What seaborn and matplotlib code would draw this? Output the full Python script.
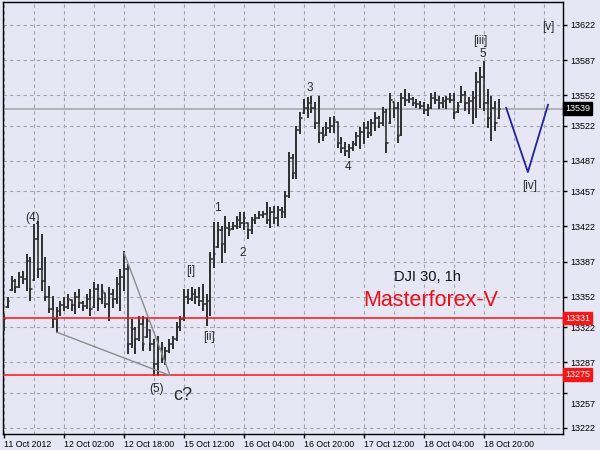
import pandas as pd
import matplotlib
matplotlib.use('Agg')
import matplotlib.pyplot as plt
import matplotlib.transforms as mtransforms
import seaborn as sns

# hourly OHLC bars, DJI 30
highs = [13334, 13351, 13372, 13369, 13376, 13377, 13394, 13391, 13423, 13426,
         13414, 13391, 13362, 13352, 13341, 13347, 13351, 13354, 13349, 13356,
         13359, 13347, 13354, 13359, 13366, 13364, 13364, 13356, 13361, 13359,
         13371, 13379, 13397, 13384, 13329, 13321, 13332, 13332, 13331, 13319,
         13309, 13312, 13306, 13301, 13309, 13312, 13326, 13332, 13359, 13359,
         13361, 13359, 13361, 13364, 13354, 13396, 13425, 13425, 13421, 13431,
         13425, 13425, 13431, 13435, 13435, 13425, 13430, 13433, 13436, 13436,
         13445, 13440, 13441, 13441, 13440, 13456, 13495, 13493, 13521, 13535,
         13548, 13550, 13551, 13545, 13551, 13520, 13525, 13530, 13531, 13526,
         13510, 13505, 13503, 13506, 13515, 13520, 13525, 13526, 13528, 13535,
         13531, 13540, 13538, 13553, 13546, 13545, 13553, 13557, 13553, 13550,
         13548, 13546, 13545, 13543, 13553, 13554, 13551, 13550, 13551, 13553,
         13553, 13545, 13560, 13555, 13550, 13555, 13574, 13579, 13585, 13557,
         13551, 13546, 13548]
lows = [13319, 13342, 13359, 13357, 13362, 13366, 13359, 13349, 13369, 13372,
        13359, 13349, 13337, 13322, 13317, 13334, 13339, 13341, 13339, 13336,
        13342, 13339, 13341, 13334, 13342, 13339, 13346, 13342, 13329, 13342,
        13346, 13339, 13359, 13296, 13302, 13296, 13309, 13299, 13312, 13299,
        13275, 13275, 13287, 13285, 13297, 13301, 13309, 13319, 13329, 13346,
        13349, 13346, 13344, 13339, 13324, 13334, 13382, 13402, 13387, 13397,
        13414, 13419, 13420, 13421, 13419, 13411, 13416, 13425, 13430, 13431,
        13425, 13421, 13425, 13423, 13431, 13431, 13451, 13470, 13470, 13515,
        13535, 13531, 13536, 13520, 13506, 13508, 13513, 13516, 13516, 13501,
        13496, 13493, 13491, 13498, 13503, 13500, 13505, 13511, 13513, 13518,
        13521, 13523, 13496, 13525, 13531, 13506, 13513, 13543, 13546, 13543,
        13541, 13540, 13535, 13533, 13540, 13545, 13540, 13541, 13540, 13546,
        13530, 13536, 13546, 13538, 13535, 13525, 13531, 13541, 13538, 13521,
        13508, 13518, 13530]
opens = [13322, 13342, 13359, 13368, 13362, 13372, 13370, 13388, 13369, 13410,
         13380, 13368, 13352, 13340, 13330, 13338, 13344, 13342, 13349, 13344,
         13352, 13346, 13343, 13350, 13342, 13360, 13350, 13356, 13345, 13355,
         13350, 13365, 13372, 13380, 13305, 13320, 13310, 13325, 13312, 13319,
         13305, 13285, 13300, 13290, 13298, 13305, 13310, 13322, 13330, 13352,
         13350, 13355, 13352, 13348, 13345, 13348, 13390, 13402, 13418, 13405,
         13420, 13419, 13422, 13428, 13425, 13425, 13418, 13428, 13430, 13433,
         13434, 13428, 13436, 13430, 13438, 13436, 13452, 13490, 13475, 13518,
         13535, 13540, 13545, 13540, 13525, 13515, 13513, 13520, 13522, 13526,
         13505, 13500, 13497, 13500, 13504, 13512, 13516, 13520, 13515, 13525,
         13530, 13525, 13536, 13525, 13546, 13540, 13513, 13550, 13548, 13549,
         13545, 13544, 13542, 13538, 13540, 13550, 13548, 13545, 13547, 13549,
         13548, 13536, 13546, 13552, 13545, 13547, 13550, 13565, 13570, 13545,
         13530, 13540, 13530]
closes = [13330, 13348, 13368, 13362, 13372, 13370, 13388, 13360, 13410, 13380,
          13368, 13352, 13340, 13330, 13338, 13344, 13342, 13350, 13344, 13352,
          13346, 13343, 13350, 13340, 13360, 13350, 13358, 13345, 13355, 13350,
          13365, 13372, 13380, 13305, 13320, 13310, 13325, 13305, 13328, 13305,
          13285, 13300, 13290, 13298, 13305, 13310, 13322, 13330, 13352, 13350,
          13355, 13352, 13348, 13345, 13348, 13390, 13395, 13418, 13405, 13420,
          13418, 13422, 13428, 13425, 13430, 13418, 13428, 13430, 13433, 13434,
          13428, 13436, 13430, 13438, 13436, 13452, 13490, 13475, 13518, 13530,
          13540, 13545, 13540, 13525, 13515, 13512, 13520, 13522, 13528, 13505,
          13500, 13497, 13500, 13504, 13512, 13516, 13520, 13515, 13525, 13530,
          13525, 13536, 13505, 13548, 13540, 13512, 13550, 13548, 13549, 13545,
          13544, 13542, 13538, 13540, 13550, 13548, 13545, 13547, 13549, 13548,
          13535, 13542, 13552, 13545, 13547, 13550, 13565, 13570, 13545, 13530,
          13540, 13525, 13539]

date_ticks = [0, 16, 32, 48, 64, 80, 96, 112, 128]
date_labels = ['11 Oct 2012', '12 Oct 02:00', '12 Oct 18:00', '15 Oct 12:00', '16 Oct 04:00',
               '16 Oct 20:00', '17 Oct 12:00', '18 Oct 04:00', '18 Oct 20:00']
price_ticks = [13222, 13257, 13287, 13322, 13352, 13387, 13422, 13457, 13487, 13522, 13552, 13587, 13622]

last_price = 13539
levels = [13331, 13275]

# wave markup: triangle and projected [iv]-[v] move
tri_x = [14.1, 44.3, 32.0]
tri_y = [13317, 13274, 13396]
proj_x = [133.9, 139.7, 145.1]
proj_y = [13540, 13476, 13543]

wave_labels = [('(4)', 7.7, 13430), ('(5)', 40.8, 13261), ('[i]', 49.9, 13378), ('[ii]', 54.7, 13312),
               ('1', 56.8, 13440), ('2', 63.7, 13396), ('3', 81.6, 13559), ('4', 91.7, 13481),
               ('[iii]', 126.9, 13606), ('5', 127.7, 13593), ('[iv]', 140.3, 13462), ('[v]', 145.1, 13620)]

bg = '#E6E6F4'
sns.set_theme(style='white', rc={'axes.facecolor': bg, 'figure.facecolor': bg})
plt.rcParams['font.family'] = ['Liberation Sans', 'DejaVu Sans']

# each bar as one path: open tick, high-low line, close tick
rows = []
for i in range(len(highs)):
    pts = [(i - 0.38, opens[i]), (i, opens[i]), (i, highs[i]), (i, lows[i]), (i, closes[i]), (i + 0.38, closes[i])]
    for x, p in pts:
        rows.append({'bar': i, 'x': x, 'price': p})
bars = pd.DataFrame(rows)

fig = plt.figure(figsize=(6, 4.5), dpi=100)
ax = fig.add_axes([3 / 600, 16 / 450, 560 / 600, 432 / 450])

sns.lineplot(data=bars, x='x', y='price', units='bar', estimator=None, sort=False,
             color='#333333', lw=1.2, ax=ax, zorder=3)

ax.axhline(last_price, color='#A8A8A8', lw=1.2, zorder=2)
for lv in levels:
    ax.axhline(lv, color='#FF1010', lw=1.1, zorder=4)

sns.lineplot(x=tri_x, y=tri_y, sort=False, color='#8C8C8C', lw=1.0, ax=ax, zorder=5)
sns.lineplot(x=proj_x, y=proj_y, sort=False, color='#24249A', lw=1.3, ax=ax, zorder=5)

for txt, x, y in wave_labels:
    ax.text(x, y, txt, fontsize=8.5, color='#2A2A2A', ha='center', va='center', zorder=6)
ax.text(47.7, 13254, 'c?', fontsize=13, color='#2A2A2A', ha='center', va='center')
ax.text(112.8, 13372, 'DJI 30, 1h', fontsize=10.5, color='#111111', ha='center', va='center')
ax.text(113.9, 13349, 'Masterforex-V', fontsize=15.5, color='#E8101A', ha='center', va='center')

ax.set_xlim(-0.27, 149.07)
ax.set_ylim(13216, 13644.8)
ax.set_xlabel('')
ax.set_ylabel('')

ax.set_xticks(date_ticks)
ax.set_xticklabels(date_labels, ha='left')
ax.set_xticks(range(0, 150, 8), minor=True)
ax.yaxis.tick_right()
ax.set_yticks(price_ticks)
ax.set_yticklabels([str(p) for p in price_ticks])
ax.tick_params(axis='x', which='major', direction='out', length=3, width=1, pad=1,
               labelsize=6.3, colors='black', bottom=True)
ax.tick_params(axis='x', which='minor', length=0)
ax.tick_params(axis='y', direction='out', length=3, width=1, pad=2, labelsize=6.5,
               colors='black', right=True, left=False)

# price label pushed down by the level tag, like the terminal does
for lab in ax.get_yticklabels():
    if lab.get_text() == '13257':
        lab.set_transform(lab.get_transform() + mtransforms.ScaledTranslation(0, -8 / 72, fig.dpi_scale_trans))

ax.grid(True, which='both', axis='x', color='#A2A2AC', lw=0.8, ls=(0, (3, 3)))
ax.grid(True, which='major', axis='y', color='#A2A2AC', lw=0.8, ls=(0, (3, 3)))
ax.set_axisbelow(True)
for s in ax.spines.values():
    s.set_color('black')
    s.set_linewidth(1)

# price tags on the right scale
tag_tr = mtransforms.blended_transform_factory(ax.transAxes, ax.transData)
ax.text(1.004, last_price, str(last_price), transform=tag_tr, fontsize=6.5, color='white',
        va='center', ha='left', bbox=dict(boxstyle='square,pad=0.2', fc='black', ec='black'), clip_on=False)
for lv in levels:
    ax.text(1.004, lv, str(lv), transform=tag_tr, fontsize=6.5, color='white', va='center', ha='left',
            bbox=dict(boxstyle='square,pad=0.2', fc='#F01818', ec='#F01818'), clip_on=False)

fig.savefig('out.png', dpi=100, facecolor=bg)
